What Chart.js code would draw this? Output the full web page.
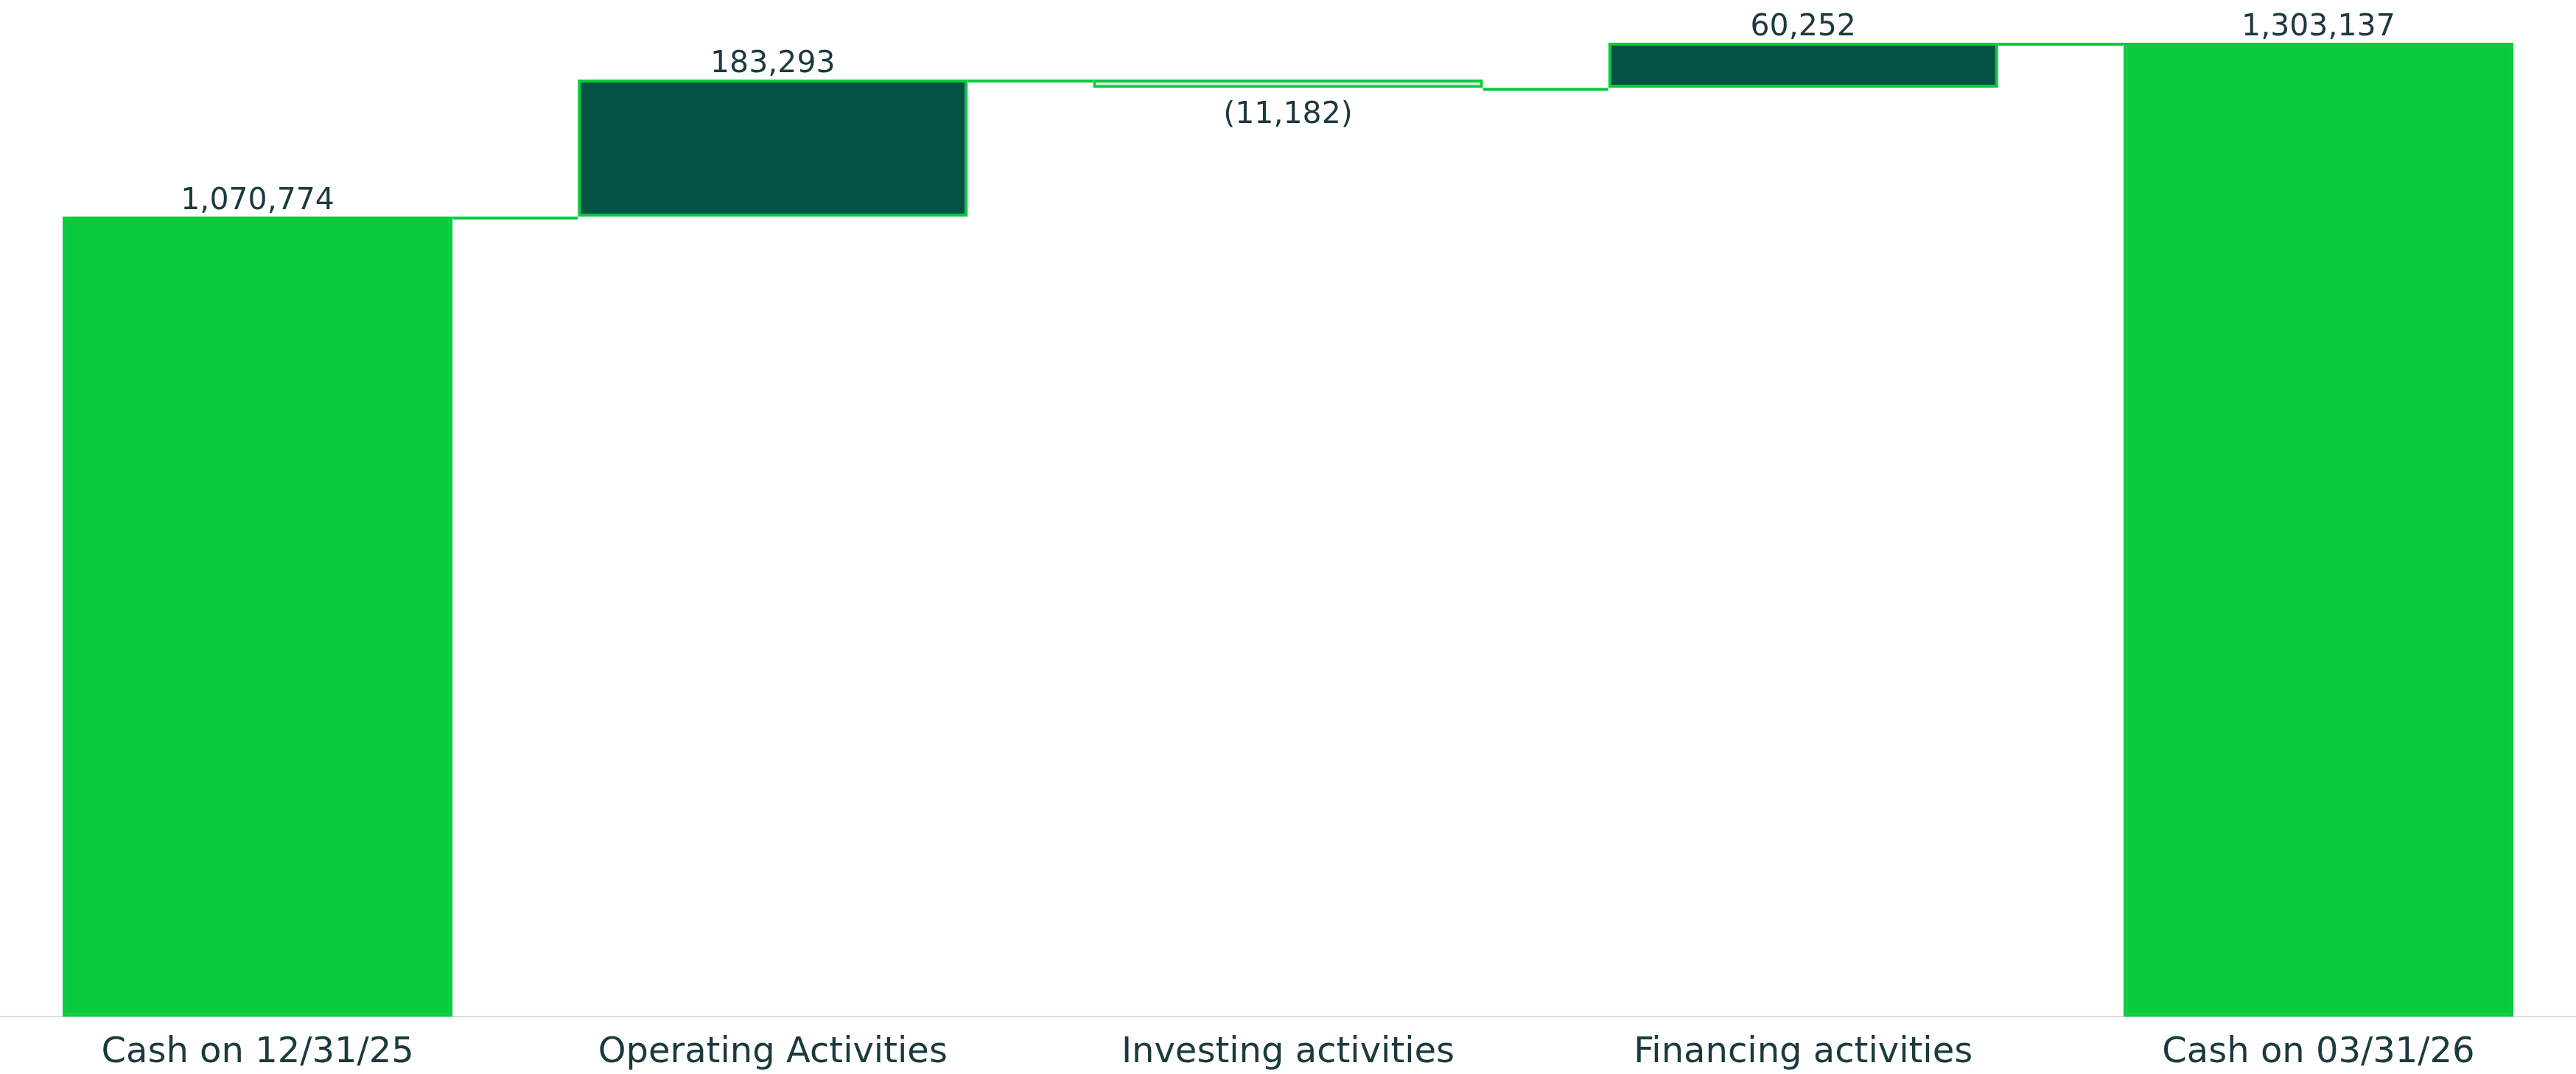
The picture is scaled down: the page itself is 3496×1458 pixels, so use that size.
<!DOCTYPE html>
<html>
<head>
<meta charset="utf-8">
<title>Cash waterfall</title>
<script src="https://cdn.jsdelivr.net/npm/chart.js@4/dist/chart.umd.min.js"></script>
<style>
  html, body { margin: 0; padding: 0; background: #ffffff; }
  canvas { display: block; }
</style>
</head>
<body>
<canvas id="waterfall" width="3496" height="1458"></canvas>
<script>
const categories = ['Cash on 12/31/25', 'Operating Activities', 'Investing activities', 'Financing activities', 'Cash on 03/31/26'];
const openingCash = 1070774;
const activityChanges = [183293, -11182, 60252];
const closingCash = 1303137;

const BRIGHT = '#07cb3d';
const DARK = '#045243';
const PALE = '#eeeeee';
const TEXT = '#1b3a3c';

// floating [start, end] pairs for the waterfall
const shownValues = [openingCash, ...activityChanges, closingCash];
const ranges = [[0, openingCash]];
let running = openingCash;
activityChanges.forEach(c => {
  ranges.push([running, running + c]);
  running += c;
});
ranges.push([0, closingCash]);

const fills = shownValues.map((v, i) => {
  if (i === 0 || i === shownValues.length - 1) return BRIGHT;
  return v < 0 ? PALE : DARK;
});

function formatValue(v) {
  const s = Math.abs(v).toLocaleString('en-US');
  return v < 0 ? '(' + s + ')' : s;
}

const waterfallExtras = {
  id: 'waterfallExtras',
  afterDatasetsDraw(chart) {
    const ctx = chart.ctx;
    const yScale = chart.scales.y;
    const bars = chart.getDatasetMeta(0).data;

    // connector lines between bars
    ctx.save();
    ctx.strokeStyle = BRIGHT;
    ctx.lineWidth = 4;
    for (let i = 0; i < bars.length - 1; i++) {
      const level = yScale.getPixelForValue(ranges[i][1]) + 2;
      const x0 = bars[i].x + bars[i].width / 2;
      const x1 = bars[i + 1].x - bars[i + 1].width / 2;
      ctx.beginPath();
      ctx.moveTo(x0, level);
      ctx.lineTo(x1, level);
      ctx.stroke();
    }
    ctx.restore();

    // value labels
    ctx.save();
    ctx.font = '41px "DejaVu Sans"';
    ctx.fillStyle = TEXT;
    ctx.textAlign = 'center';
    ctx.textBaseline = 'alphabetic';
    bars.forEach((bar, i) => {
      const v = shownValues[i];
      const top = yScale.getPixelForValue(Math.max(ranges[i][0], ranges[i][1]));
      const bottom = yScale.getPixelForValue(Math.min(ranges[i][0], ranges[i][1]));
      const y = v < 0 ? bottom + 48 : top - 10;
      ctx.fillText(formatValue(v), bar.x, y);
    });
    ctx.restore();
  }
};

const ctx = document.getElementById('waterfall').getContext('2d');
new Chart(ctx, {
  type: 'bar',
  data: {
    labels: categories,
    datasets: [{
      data: ranges,
      backgroundColor: fills,
      borderColor: BRIGHT,
      borderWidth: 4,
      borderSkipped: false,
      barPercentage: 0.757,
      categoryPercentage: 1
    }]
  },
  options: {
    responsive: false,
    animation: false,
    layout: { padding: { top: 0, left: 0, right: 0, bottom: -20 } },
    plugins: {
      legend: { display: false },
      tooltip: { enabled: false }
    },
    scales: {
      x: {
        grid: { display: false, drawTicks: false },
        border: { display: true, color: '#dddddd', width: 2 },
        ticks: {
          color: TEXT,
          padding: 20,
          maxRotation: 0,
          font: { family: 'DejaVu Sans', size: 48 }
        }
      },
      y: {
        display: false,
        min: 0,
        max: 1360400
      }
    }
  },
  plugins: [waterfallExtras]
});
</script>
</body>
</html>
